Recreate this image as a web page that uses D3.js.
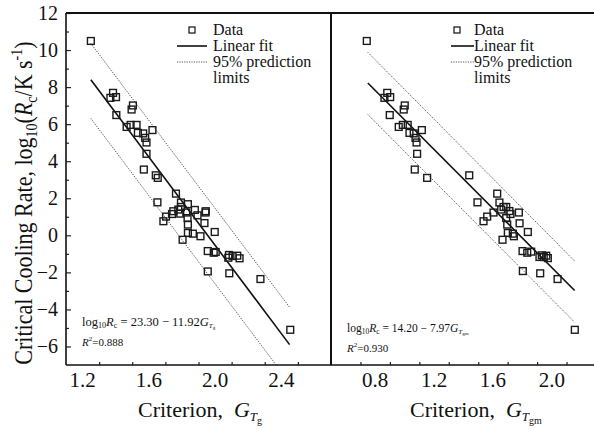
<!DOCTYPE html>
<html><head><meta charset="utf-8">
<script src="https://cdn.jsdelivr.net/npm/d3@7"></script>
<style>body{margin:0;background:#fff}svg{display:block}text{font-family:"Liberation Serif","Times New Roman",serif;fill:#111}</style>
</head><body><svg id="c" width="594" height="430"></svg>
<script>
// Left panel: criterion G_Tg vs log10(Rc)
const leftX = [1.25,1.384,1.368,1.402,1.504,1.496,1.404,1.466,1.49,1.526,1.622,1.534,1.566,1.578,1.586,1.586,1.57,1.642,1.654,1.764,1.652,
  1.794,1.836,1.794,1.778,1.748,1.704,1.688,1.74,1.79,1.826,1.878,1.894,1.942,1.944,1.834,1.836,1.836,1.866,1.804,1.912,1.936,1.998,
  1.956,1.992,2.004,2.084,2.08,2.106,2.134,2.148,1.956,2.086,2.274,2.454];
const leftY = [10.49,7.69,7.42,7.46,7.01,6.79,6.49,5.85,5.96,5.96,5.68,5.53,5.50,5.26,5.01,4.40,3.55,3.24,3.10,2.25,1.78,
  1.77,1.68,1.53,1.39,1.30,1.01,0.76,1.15,1.17,1.23,1.37,1.08,1.23,1.30,0.93,0.58,0.13,0.09,-0.24,-0.05,0.66,0.18,
  -0.85,-0.94,-0.90,-1.06,-1.21,-1.12,-1.10,-1.24,-1.95,-2.05,-2.36,-5.10];
// Right panel: criterion G_Tgm vs log10(Rc)
const rightX = [0.743,0.882,0.863,0.902,1.001,0.994,0.899,0.96,0.988,1.021,1.117,1.033,1.062,1.074,1.081,1.085,1.069,1.153,1.439,1.629,1.495,
  1.644,1.672,1.69,1.656,1.604,1.561,1.536,1.712,1.719,1.776,1.781,1.69,1.697,1.701,1.735,1.665,1.742,1.837,
  1.801,1.833,1.86,1.916,1.932,1.962,1.973,1.945,1.803,1.921,2.039,2.156];
const rightY = [10.49,7.69,7.42,7.46,7.01,6.79,6.49,5.85,5.96,5.96,5.68,5.53,5.50,5.26,5.01,4.40,3.55,3.10,3.24,2.25,1.78,
  1.77,1.53,1.53,1.39,1.23,1.01,0.76,1.31,1.15,1.23,0.65,0.93,0.58,0.13,0.09,-0.24,-0.05,0.18,
  -0.85,-0.94,-0.88,-1.17,-1.08,-1.10,-1.23,-1.17,-1.93,-2.05,-2.36,-5.10];
// Fit lines and 95% prediction limits (end points)
const leftLineX = [1.25, 2.45];
const leftFitY = [8.40, -5.90];
const leftUpperY = [10.36, -3.88];
const leftLowerY = [6.31, -7.97];
const rightLineX = [0.75, 2.155];
const rightFitY = [8.22, -2.98];
const rightUpperY = [9.88, -1.39];
const rightLowerY = [6.52, -4.69];
const yTicks = [12,10,8,6,4,2,0,-2,-4,-6];
const leftTicks = [1.2,1.6,2.0,2.4];
const rightTicks = [0.8,1.2,1.6,2.0];
const legendLabels = ["Data","Linear fit","95% prediction","limits"];

const svg = d3.select("#c");
const pTop = 13, pBottom = 365, xL0 = 66, xMid = 331, xR1 = 596;
const y = d3.scaleLinear().domain([-7,12]).range([pBottom, pTop]);
const xl = d3.scaleLinear().domain([1.1,2.7]).range([xL0, xMid]);
const xr = d3.scaleLinear().domain([0.5,2.3]).range([xMid, xR1]);

const defs = svg.append("defs");
defs.append("clipPath").attr("id","clipL").append("rect").attr("x",xL0).attr("y",pTop).attr("width",xMid-xL0).attr("height",pBottom-pTop);
defs.append("clipPath").attr("id","clipR").append("rect").attr("x",xMid).attr("y",pTop).attr("width",xR1-xMid).attr("height",pBottom-pTop);

const fmt = v => (v<0?"\u2212":"") + Math.abs(v);

// y axis ticks (inward) and labels
const yAxis = d3.axisRight(y).tickValues(d3.range(-6,12.1,1)).tickSize(0).tickFormat("");
const yg = svg.append("g").attr("transform",`translate(${xL0},0)`).call(yAxis);
yg.select(".domain").remove();
yg.selectAll(".tick line").attr("x2", d => d%2===0 ? 5 : 3).attr("stroke","#222").attr("stroke-width",1.2);
svg.append("g").selectAll("text").data(yTicks).join("text")
  .attr("x",58).attr("y",d=>y(d)).attr("dy","0.35em").attr("text-anchor","end")
  .attr("font-size",20).text(fmt);

function xAxisPanel(x, ticks, dom){
  const minor = d3.range(dom[0], dom[1]+1e-9, 0.2).map(v=>+v.toFixed(2)).filter(v=>v>dom[0]+1e-6 && v<dom[1]-1e-6);
  const g = svg.append("g").attr("transform",`translate(0,${pBottom})`)
    .call(d3.axisTop(x).tickValues(minor).tickSize(0).tickFormat(""));
  g.select(".domain").remove();
  g.selectAll(".tick line").attr("y2", d => ticks.some(t=>Math.abs(t-d)<1e-6) ? -5 : -3).attr("stroke","#222").attr("stroke-width",1.2);
  svg.append("g").selectAll("text").data(ticks).join("text")
    .attr("x",d=>x(d)).attr("y",387).attr("text-anchor","middle").attr("font-size",21).text(d=>d.toFixed(1));
}
xAxisPanel(xl, leftTicks, xl.domain());
xAxisPanel(xr, rightTicks, xr.domain());

function panel(x, xs, ys, lx, fy, uy, ly, clip){
  const g = svg.append("g").attr("clip-path",`url(#${clip})`);
  const line = d3.line().x(d=>x(d[0])).y(d=>y(d[1]));
  const mk = arr => lx.map((v,i)=>[v,arr[i]]);
  g.append("path").attr("d",line(mk(uy))).attr("fill","none").attr("stroke","#555").attr("stroke-width",1).attr("stroke-dasharray","1.2,1.2");
  g.append("path").attr("d",line(mk(ly))).attr("fill","none").attr("stroke","#555").attr("stroke-width",1).attr("stroke-dasharray","1.2,1.2");
  g.append("path").attr("d",line(mk(fy))).attr("fill","none").attr("stroke","#111").attr("stroke-width",1.6);
  g.selectAll("rect.pt").data(xs.map((v,i)=>[v,ys[i]])).join("rect").attr("class","pt")
    .attr("x",d=>x(d[0])-3.4).attr("y",d=>y(d[1])-3.4).attr("width",6.8).attr("height",6.8)
    .attr("fill","none").attr("stroke","#1a1a1a").attr("stroke-width",1.4);
}
panel(xl, leftX, leftY, leftLineX, leftFitY, leftUpperY, leftLowerY, "clipL");
panel(xr, rightX, rightY, rightLineX, rightFitY, rightUpperY, rightLowerY, "clipR");

// frame
svg.append("line").attr("x1",xL0).attr("x2",594).attr("y1",pTop).attr("y2",pTop).attr("stroke","#111").attr("stroke-width",2);
svg.append("line").attr("x1",xL0).attr("x2",xL0).attr("y1",pTop).attr("y2",pBottom).attr("stroke","#111").attr("stroke-width",1.6);
svg.append("line").attr("x1",xMid).attr("x2",xMid).attr("y1",pTop).attr("y2",pBottom).attr("stroke","#111").attr("stroke-width",2);
svg.append("line").attr("x1",xL0).attr("x2",594).attr("y1",pBottom).attr("y2",pBottom).attr("stroke","#111").attr("stroke-width",1.6);

// legends
function legend(mx, tx, lx0, lx1){
  const g = svg.append("g");
  g.append("rect").attr("x",mx-3).attr("y",27).attr("width",6).attr("height",6).attr("fill","none").attr("stroke","#222").attr("stroke-width",1.3);
  g.append("line").attr("x1",lx0).attr("x2",lx1).attr("y1",46).attr("y2",46).attr("stroke","#111").attr("stroke-width",1.6);
  g.append("line").attr("x1",lx0).attr("x2",lx1).attr("y1",62).attr("y2",62).attr("stroke","#555").attr("stroke-width",1).attr("stroke-dasharray","1.2,1.2");
  g.selectAll("text").data(legendLabels).join("text").attr("x",tx).attr("y",(d,i)=>35+i*16).attr("font-size",16).text(d=>d);
}
legend(192, 213, 177, 207);
legend(457, 474, 451, 474);

// equations
function eq(x0, yb, a, b, sub, r2, fs){
  const t = svg.append("text").attr("x",x0).attr("y",yb).attr("font-size",fs);
  t.append("tspan").text("log");
  t.append("tspan").attr("font-size",fs*0.65).attr("dy",2).text("10");
  t.append("tspan").attr("dy",-2).attr("font-style","italic").text("R");
  t.append("tspan").attr("font-size",fs*0.65).attr("dy",2).text("c");
  t.append("tspan").attr("dy",-2).text(` = ${a} \u2212 ${b}`);
  t.append("tspan").attr("font-style","italic").text("G");
  t.append("tspan").attr("font-size",7).attr("font-style","italic").attr("dy",2).text("T");
  t.append("tspan").attr("font-size",5).attr("dy",1).text(sub);
  const r = svg.append("text").attr("x",x0).attr("y",yb+20).attr("font-size",11);
  r.append("tspan").attr("font-style","italic").text("R");
  r.append("tspan").attr("font-size",7).attr("dy",-5).text("2");
  r.append("tspan").attr("dy",5).text("=" + r2);
}
eq(82, 326, "23.30", "11.92", "g", "0.888", 12.5);
eq(347, 332, "14.20", "7.97", "gm", "0.930", 11.5);

// x titles
function xTitle(x0, sub){
  const t = svg.append("text").attr("x",x0).attr("y",417).attr("font-size",22);
  t.append("tspan").text("Criterion,\u00a0\u00a0");
  t.append("tspan").attr("font-style","italic").text("G");
  t.append("tspan").attr("font-style","italic").attr("font-size",13).attr("dy",4).text("T");
  t.append("tspan").attr("font-size",10).attr("dy",3).text(sub);
}
xTitle(138, "g");
xTitle(410, "gm");

// y title
const yt = svg.append("text").attr("transform","translate(32,203) rotate(-90) scale(0.88,1)").attr("text-anchor","middle").attr("font-size",25);
yt.append("tspan").text("Critical Cooling Rate, log");
yt.append("tspan").attr("font-size",16).attr("dy",5).text("10");
yt.append("tspan").attr("dy",-5).text("(");
yt.append("tspan").attr("font-style","italic").text("R");
yt.append("tspan").attr("font-size",16).attr("dy",5).text("c");
yt.append("tspan").attr("dy",-5).text("/K s");
yt.append("tspan").attr("font-size",16).attr("dy",-10).text("-1");
yt.append("tspan").attr("dy",10).text(")");
</script></body></html>
